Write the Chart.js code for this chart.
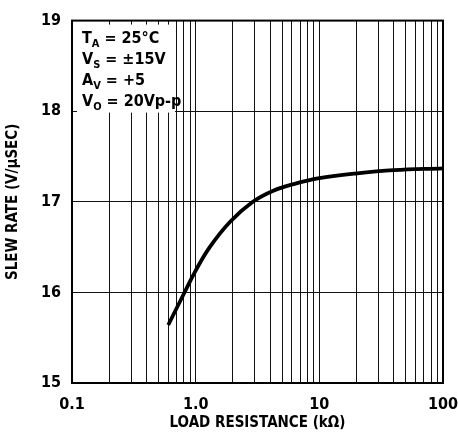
<!DOCTYPE html>
<html>
<head>
<meta charset="utf-8">
<script src="https://cdn.jsdelivr.net/npm/chart.js@4"></script>
<style>
  html, body { margin: 0; padding: 0; background: #fff; }
  #wrap { width: 458px; height: 436px; }
</style>
</head>
<body>
<div id="wrap"><canvas id="c" width="458" height="436"></canvas></div>
<script>
  // Slew rate vs. load resistance
  const loadRes = [0.6, 0.82, 0.99, 1.3, 1.9, 2.9, 4.2, 6.2, 10, 19, 40, 100];
  const slewRate = [15.64, 16.01, 16.23, 16.5, 16.78, 17.0, 17.12, 17.195, 17.26, 17.31, 17.35, 17.37];

  const xGridValues = [0.1, 0.2, 0.3, 0.4, 0.5, 0.6, 0.7, 0.8, 0.9,
                       1, 2, 3, 4, 5, 6, 7, 8, 9,
                       10, 20, 30, 40, 50, 60, 70, 80, 90, 100];
  const xTickLabels = { 0.1: '0.1', 1: '1.0', 10: '10', 100: '100' };
  const yTicks = [15, 16, 17, 18, 19];

  const conditions = [
    ['T', 'A', ' = 25°C'],
    ['V', 'S', ' = ±15V'],
    ['A', 'V', ' = +5'],
    ['V', 'O', ' = 20Vp-p'],
  ];

  const FONT = "'Liberation Sans Narrow', 'DejaVu Sans Condensed', sans-serif";

  // white box over the grid in the top-left corner, with the test conditions
  const conditionsBox = {
    id: 'conditionsBox',
    beforeDatasetsDraw(chart) {
      const { ctx, chartArea } = chart;
      ctx.save();
      ctx.fillStyle = '#fff';
      ctx.fillRect(chartArea.left + 5, chartArea.top + 4, 98, 88);
      ctx.fillStyle = '#000';
      ctx.textBaseline = 'alphabetic';
      let y = chartArea.top + 22;
      for (const [main, sub, rest] of conditions) {
        let x = chartArea.left + 10;
        ctx.font = `bold 16px ${FONT}`;
        ctx.fillText(main, x, y);
        x += ctx.measureText(main).width;
        ctx.font = `bold 11px ${FONT}`;
        ctx.fillText(sub, x, y + 4);
        x += ctx.measureText(sub).width;
        ctx.font = `bold 16px ${FONT}`;
        ctx.fillText(rest, x, y);
        y += 21;
      }
      ctx.restore();
    },
    afterDraw(chart) {
      const { ctx, chartArea } = chart;
      ctx.save();
      ctx.strokeStyle = '#000';
      ctx.lineWidth = 2;
      ctx.strokeRect(chartArea.left, chartArea.top, chartArea.right - chartArea.left, chartArea.bottom - chartArea.top);
      ctx.restore();
    }
  };

  new Chart(document.getElementById('c'), {
    type: 'line',
    data: {
      datasets: [{
        data: loadRes.map((r, i) => ({ x: r, y: slewRate[i] })),
        borderColor: '#000',
        borderWidth: 3.8,
        pointRadius: 0,
        tension: 0.4,
        fill: false
      }]
    },
    options: {
      responsive: false,
      animation: false,
      layout: { padding: { top: 17, right: 15, left: 0, bottom: 0 } },
      plugins: { legend: { display: false }, tooltip: { enabled: false } },
      scales: {
        x: {
          type: 'logarithmic',
          min: 0.1,
          max: 100,
          afterBuildTicks(axis) { axis.ticks = xGridValues.map(v => ({ value: v })); },
          afterFit(axis) {
            axis.height = 53;
            // let the end labels hang past the frame
            axis.paddingLeft = 0;
            axis.paddingRight = 0;
          },
          grid: { color: '#111', lineWidth: 1, drawTicks: false },
          border: { color: '#000', width: 2 },
          ticks: {
            autoSkip: false,
            maxRotation: 0,
            padding: 12,
            color: '#000',
            font: { family: FONT, size: 16, weight: 'bold' },
            callback: v => xTickLabels[v] || ''
          },
          title: {
            display: true,
            text: 'LOAD RESISTANCE (kΩ)',
            color: '#000',
            font: { family: FONT, size: 15, weight: 'bold' },
            padding: { top: 3 }
          }
        },
        y: {
          min: 15,
          max: 19,
          afterBuildTicks(axis) { axis.ticks = yTicks.map(v => ({ value: v })); },
          afterFit(axis) { axis.width = 72; },
          grid: { color: '#111', lineWidth: 1, drawTicks: false },
          border: { color: '#000', width: 2 },
          ticks: {
            padding: 11,
            color: '#000',
            font: { family: FONT, size: 16, weight: 'bold' }
          },
          title: {
            display: true,
            text: 'SLEW RATE (V/µSEC)',
            color: '#000',
            font: { family: FONT, size: 15, weight: 'bold' },
            padding: { bottom: 8 }
          }
        }
      }
    },
    plugins: [conditionsBox]
  });
</script>
</body>
</html>
